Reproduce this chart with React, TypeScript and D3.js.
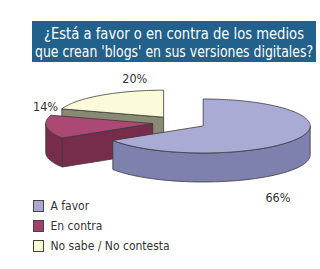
import React from "react";
import * as d3 from "d3";

const categories = ["A favor", "En contra", "No sabe / No contesta"];
const values = [66, 14, 20];
const valueLabels = ["66%", "14%", "20%"];
const titleLines = [
  "¿Está a favor o en contra de los medios",
  "que crean 'blogs' en sus versiones digitales?",
];

// styling / layout (not data)
const topColors = ["#aaabd5", "#ac4874", "#fbfbd9"];
const sideColors = ["#7e80ad", "#772c4c", "#8a8a74"];
const legendColors = ["#a9a9d3", "#a5406e", "#fbfbd2"];
const labelNudges: [number, number][] = [
  [-19, 59],
  [-1, -20],
  [34, -17],
];
const titleWidths = [260, 278];

const W = 320;
const H = 269;
const RX = 107;
const RY = 27;
const DEPTH = 29;
const CX = 179.5;
const CY = 122.7;
const EXPLODE = 27;

function pt(ax: number, ay: number, a: number, r = 1): [number, number] {
  return [ax + RX * r * Math.sin(a), ay - RY * r * Math.cos(a)];
}

function arcPoints(ax: number, ay: number, a0: number, a1: number, dy = 0) {
  const n = Math.max(2, Math.ceil(Math.abs(a1 - a0) / 0.02));
  const pts: [number, number][] = [];
  for (let i = 0; i <= n; i++) {
    const a = a0 + ((a1 - a0) * i) / n;
    const p = pt(ax, ay, a);
    pts.push([p[0], p[1] + dy]);
  }
  return pts;
}

const lineGen = d3.line<[number, number]>().x((d) => d[0]).y((d) => d[1]);

export default function App() {
  const pie = d3
    .pie<number>()
    .sort(null)
    .value((d) => d)
    .startAngle(0)
    .endAngle(2 * Math.PI);
  const arcs = pie(values);

  const slices = arcs.map((a, i) => {
    const mid = (a.startAngle + a.endAngle) / 2;
    const ax = CX + EXPLODE * Math.sin(mid);
    const ay = CY - EXPLODE * (RY / RX) * Math.cos(mid);
    const a0 = a.startAngle;
    const a1 = a.endAngle;
    const parts: { d: string; fill: string }[] = [];
    if (Math.sin(a0) < -1e-6) {
      const o = pt(ax, ay, a0);
      const poly: [number, number][] = [
        [ax, ay],
        o,
        [o[0], o[1] + DEPTH],
        [ax, ay + DEPTH],
      ];
      parts.push({ d: lineGen(poly) + "Z", fill: sideColors[i] });
    }
    if (Math.sin(a1) > 1e-6) {
      const o = pt(ax, ay, a1);
      const poly: [number, number][] = [
        [ax, ay],
        o,
        [o[0], o[1] + DEPTH],
        [ax, ay + DEPTH],
      ];
      parts.push({ d: lineGen(poly) + "Z", fill: sideColors[i] });
    }
    const w0 = Math.max(a0, Math.PI / 2);
    const w1 = Math.min(a1, (3 * Math.PI) / 2);
    if (w1 > w0) {
      const topA = arcPoints(ax, ay, w0, w1);
      const botA = arcPoints(ax, ay, w1, w0, DEPTH);
      parts.push({ d: lineGen([...topA, ...botA]) + "Z", fill: sideColors[i] });
    }
    const topPts: [number, number][] = [[ax, ay], ...arcPoints(ax, ay, a0, a1)];
    parts.push({ d: lineGen(topPts) + "Z", fill: topColors[i] });

    const lp = pt(ax, ay, mid);
    const label = {
      x: lp[0] + labelNudges[i][0],
      y: lp[1] + labelNudges[i][1],
      text: valueLabels[i],
    };
    return { parts, label, order: ay };
  });

  const drawOrder = slices
    .map((s, i) => ({ s, i }))
    .sort((a, b) => a.s.order - b.s.order);

  const labelFont = "'DejaVu Sans Condensed', 'Liberation Sans Narrow', sans-serif";

  return (
    <svg
      width={W}
      height={H}
      style={{ position: "absolute", left: 0, top: 0, background: "#fff" }}
    >
      <rect x={0} y={0} width={W} height={H} fill="#fff" />
      <rect x={32} y={21} width={284} height={41} fill="#22618b" />
      {titleLines.map((t, i) => (
        <text
          key={i}
          x={174}
          y={38.5 + i * 18}
          textAnchor="middle"
          fill="#fff"
          fontFamily="'Liberation Sans Narrow', 'DejaVu Sans Condensed', sans-serif"
          fontSize={16.5}
          textLength={titleWidths[i]}
          lengthAdjust="spacingAndGlyphs"
        >
          {t}
        </text>
      ))}
      {drawOrder.map(({ s, i }) => (
        <g key={i}>
          {s.parts.map((p, j) => (
            <path
              key={j}
              d={p.d}
              fill={p.fill}
              stroke="#3a3a3a"
              strokeWidth={0.8}
              strokeLinejoin="round"
            />
          ))}
        </g>
      ))}
      {slices.map((s, i) => (
        <text
          key={"l" + i}
          x={s.label.x}
          y={s.label.y}
          textAnchor="middle"
          dominantBaseline="central"
          fontFamily={labelFont}
          fontSize={12.5}
          fill="#333"
        >
          {s.label.text}
        </text>
      ))}
      {categories.map((c, i) => (
        <g key={"g" + i} transform={`translate(33.5, ${200.5 + i * 20})`}>
          <rect
            width={10}
            height={11}
            fill={legendColors[i]}
            stroke="#444"
            strokeWidth={1}
          />
          <text
            x={17}
            y={5.5}
            dominantBaseline="central"
            fontFamily={labelFont}
            fontSize={12}
            fill="#333"
          >
            {c}
          </text>
        </g>
      ))}
    </svg>
  );
}
